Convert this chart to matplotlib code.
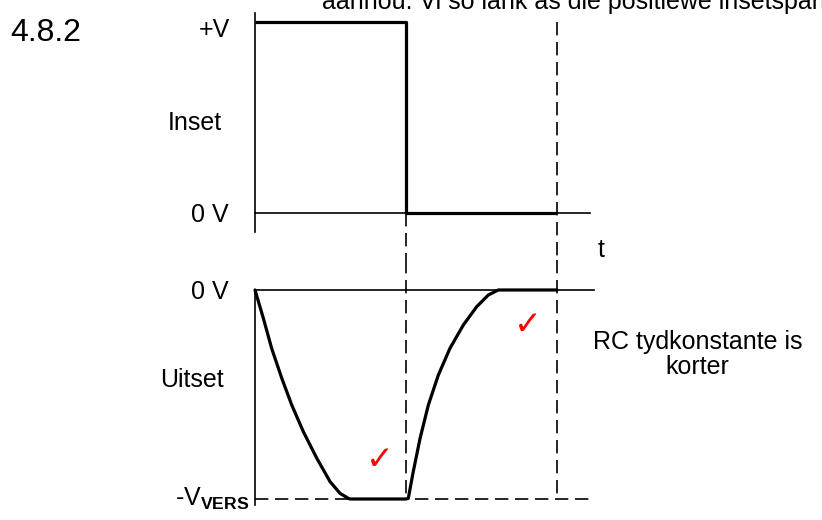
import numpy as np
import matplotlib
matplotlib.use("Agg")
import matplotlib.pyplot as plt

plt.rcParams["font.family"] = ["Liberation Sans", "DejaVu Sans"]
plt.rcParams["mathtext.fontset"] = "custom"
plt.rcParams["mathtext.rm"] = "Liberation Sans"
plt.rcParams["mathtext.bf"] = "Liberation Sans:bold"

# Input square wave (t in half-periods, v as fraction of +V)
t_in = [0.0, 1.0, 1.0, 2.0]
v_in = [1.0, 1.0, 0.0, 0.0]

# Output waveform (fraction of V_vers)
t_out = [0.0, 0.055, 0.110, 0.177, 0.243, 0.320, 0.409, 0.497, 0.563,
         0.618, 0.629, 1.0,
         1.015, 1.048, 1.093, 1.148, 1.214, 1.291, 1.380, 1.468, 1.545,
         1.611, 2.0]
v_out = [0.0, -0.135, -0.279, -0.422, -0.550, -0.678, -0.805, -0.917, -0.973,
         -0.997, -1.0, -1.0,
         -0.997, -0.869, -0.710, -0.550, -0.407, -0.279, -0.167, -0.080, -0.024,
         0.0, 0.0]

# tick marks ("correct") placed on the output plot
check_t = [0.828, 1.808]
check_v = [-0.813, -0.167]

header = "4.8.2"
top_cut_text = "aanhou. Vi so lank as die positiewe insetspanning"
note = "RC tydkonstante is\nkorter"

fs = 18
thin = 1.2
thick = 2.3
dash = dict(color="black", lw=thin, linestyle=(0, (8, 4)), clip_on=False)
solid = dict(color="black", lw=thin, clip_on=False)

fig = plt.figure(figsize=(8.22, 5.2), dpi=100)
ax_in = fig.add_axes([0, 0.5, 1, 0.5])
ax_out = fig.add_axes([0, 0, 1, 0.5])
for ax in (ax_in, ax_out):
    ax.set_xlim(-1.689, 3.755)
    ax.axis("off")
ax_in.set_ylim(-0.246, 1.115)
ax_out.set_ylim(-1.1005, 0.1435)

# --- input panel
ax_in.plot([0, 0], [-0.0995, 1.047], **solid)
ax_in.plot([0, 2.219], [0, 0], **solid)
ax_in.plot(t_in, v_in, color="black", lw=thick, solid_capstyle="butt")
ax_in.plot([2, 2], [1.0, -0.246], **dash)
ax_in.plot([1, 1], [0, -0.246], **dash)
ax_in.text(-0.166, 0.958, "+V", ha="right", va="center", fontsize=fs)
ax_in.text(-0.397, 0.471, "Inset", ha="center", va="center", fontsize=fs)
ax_in.text(-0.172, -0.01, "0 V", ha="right", va="center", fontsize=fs)
ax_in.text(2.291, -0.194, "t", ha="center", va="center", fontsize=fs)

# --- output panel
ax_out.plot([0, 0], [0, -1.029], **solid)
ax_out.plot([0, 2.245], [0, 0], **solid)
ax_out.plot([0, 2.245], [-1, -1], **dash)
ax_out.plot([1, 1], [0.1435, -1], **dash)
ax_out.plot([2, 2], [0.1435, -1], **dash)
ax_out.plot(t_out, v_out, color="black", lw=thick, solid_capstyle="round",
            solid_joinstyle="round")
ax_out.text(-0.172, -0.01, "0 V", ha="right", va="center", fontsize=fs)
ax_out.text(-0.417, -0.431, "Uitset", ha="center", va="center", fontsize=fs)
ax_out.text(-0.04, -1.033, r"-V$_{\mathbf{VERS}}$", ha="right", va="baseline",
            fontsize=fs)
ax_out.text(2.93, -0.31, note, ha="center", va="center", fontsize=fs,
            linespacing=1.05, multialignment="center")
for tx, vy in zip(check_t, check_v):
    ax_out.text(tx, vy, "\u2713", color="red", ha="center", va="center",
                fontsize=24, family=["DejaVu Sans"], fontweight="bold")

fig.text(10 / 822, 1 - 33 / 520, header, ha="left", va="center", fontsize=23)
fig.text(322 / 822, 1 - 9 / 520, top_cut_text, ha="left", va="baseline",
         fontsize=fs)

fig.savefig("out.png", dpi=100)
